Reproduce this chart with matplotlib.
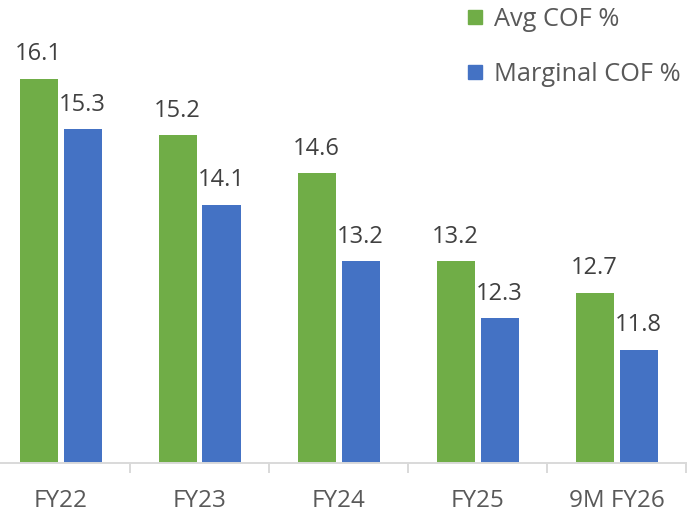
import matplotlib.pyplot as plt
import numpy as np
from matplotlib.lines import Line2D

plt.rcParams['font.family'] = ['Open Sans', 'DejaVu Sans']

# data
periodos = ["FY22", "FY23", "FY24", "FY25", "9M FY26"]
avg_cof = [16.1, 15.2, 14.6, 13.2, 12.7]
marginal_cof = [15.3, 14.1, 13.2, 12.3, 11.8]
series = ["Avg COF %", "Marginal COF %"]
colores = ["#70AD47", "#4472C4"]

W, H = 687, 514
fig = plt.figure(figsize=(W / 100, H / 100), dpi=100)
# axes placed in pixels: baseline at y=463, categories 139px wide
ax = fig.add_axes([-9 / W, (H - 463) / H, 695 / W, 463 / H])

x = np.arange(len(periodos))
ancho = 38 / 139
desp = 22 / 139
for i, (vals, col) in enumerate(zip([avg_cof, marginal_cof], colores)):
    pos = x - desp if i == 0 else x + desp
    barras = ax.bar(pos, vals, ancho, color=col, bottom=0, zorder=2)
    for b, v in zip(barras, vals):
        ax.annotate(f"{v:.1f}", (b.get_x() + b.get_width() / 2, v),
                    xytext=(0, 9), textcoords="offset points",
                    ha="center", va="bottom", fontsize=17, color="#404040")

ax.set_ylim(10, 10 + 463 / 63)
ax.set_xlim(-0.5, len(periodos) - 0.5)

# ejes
for s in ["top", "right", "left"]:
    ax.spines[s].set_visible(False)
ax.spines["bottom"].set_color("#D9D9D9")
ax.spines["bottom"].set_linewidth(1.4)
ax.set_yticks([])
ax.set_xticks(x)
ax.set_xticklabels(periodos, fontsize=17.5, color="#595959")
ax.tick_params(axis="x", which="major", length=0, pad=18.5)
ax.set_xticks(np.arange(len(periodos) + 1) - 0.5, minor=True)
ax.tick_params(axis="x", which="minor", length=7.5, width=1.4, color="#D9D9D9")

# leyenda
handles = [Line2D([], [], marker="s", linestyle="none", markersize=10,
                  markerfacecolor=c, markeredgecolor=c) for c in colores]
ax.legend(handles, series, loc="upper left", bbox_to_anchor=(467 / W, 1 - 7 / H),
          bbox_transform=fig.transFigure, frameon=False, fontsize=18.3,
          labelcolor="#595959", handlelength=0.65, handletextpad=0.4,
          labelspacing=1.17, borderpad=0, borderaxespad=0)

fig.savefig("out.png", dpi=100)
